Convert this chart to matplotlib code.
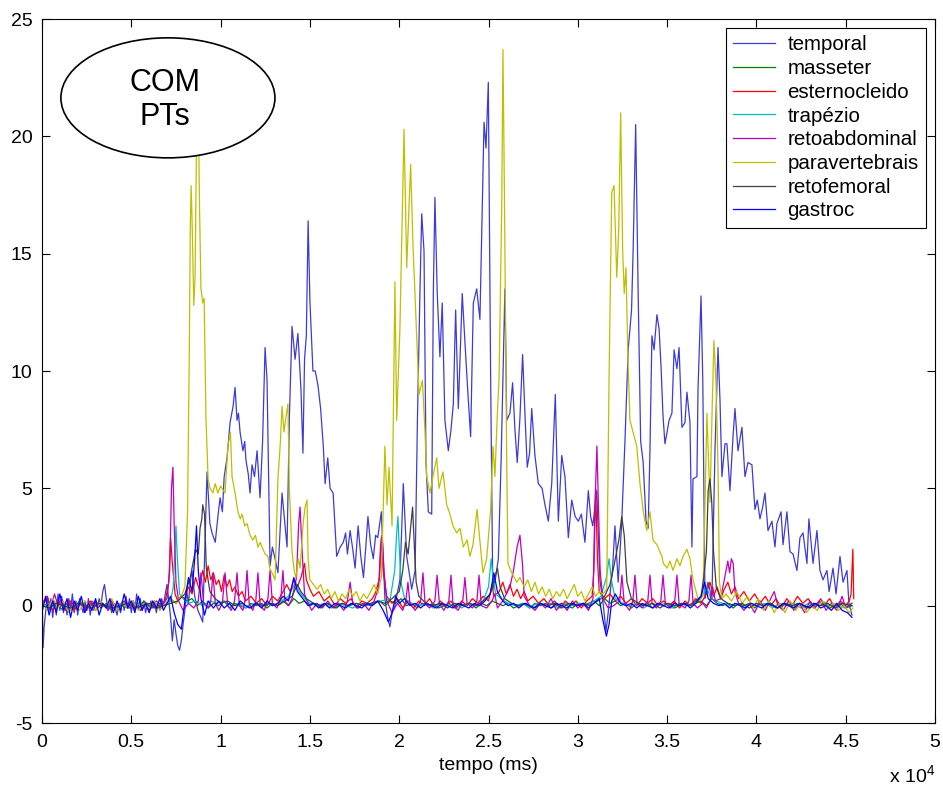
import numpy as np
import matplotlib
matplotlib.use("Agg")
import matplotlib.pyplot as plt
from matplotlib.patches import Ellipse
from matplotlib.ticker import FuncFormatter

plt.rcParams['font.family'] = ['Liberation Sans', 'DejaVu Sans']
plt.rcParams['mathtext.default'] = 'regular'
plt.rcParams['axes.unicode_minus'] = False

# time in units of 10^4 ms, amplitude
temporal = [(0.000,0.8),(0.006,-1.8),(0.012,-0.9),(0.02,-0.3),(0.03,0.4),(0.04,-0.2),(0.05,0.3),(0.06,-0.5),(0.07,0.2),(0.08,-0.4),(0.09,0.5),(0.10,-0.2),(0.11,0.4),(0.12,-0.3),(0.13,0.1),(0.14,-0.4),(0.15,0.3),(0.16,-0.2),(0.17,0.5),(0.18,-0.3),(0.19,0.2),(0.20,-0.4),(0.21,0.3),(0.22,0.0),(0.23,-0.3),(0.24,0.2),(0.25,-0.2),(0.26,0.3),(0.27,-0.4),(0.28,0.1),(0.29,-0.2),(0.30,0.2),(0.31,-0.1),(0.32,0.3),(0.33,0.0),(0.34,0.6),(0.35,0.9),(0.36,0.3),(0.37,-0.2),(0.38,0.2),(0.39,-0.3),(0.40,0.1),(0.41,-0.1),(0.42,-0.4),(0.43,0.0),(0.44,-0.3),(0.45,0.2),(0.46,-0.2),(0.47,0.4),(0.48,-0.1),(0.49,0.3),(0.50,-0.3),(0.51,0.2),(0.52,-0.2),(0.53,0.5),(0.54,-0.1),(0.55,0.3),(0.56,-0.2),(0.57,0.2),(0.58,-0.3),(0.59,0.1),(0.60,-0.2),(0.61,0.2),(0.62,-0.1),(0.63,0.2),(0.64,-0.3),(0.65,0.1),(0.66,-0.2),(0.67,0.3),(0.68,0.0),(0.69,0.5),(0.70,0.9),
            (0.71,0.2),(0.72,-0.5),(0.73,-1.5),(0.74,-0.6),(0.75,-1.2),(0.76,-1.7),(0.77,-1.9),(0.78,-1.5),(0.79,-0.8),(0.80,-0.2),(0.81,0.6),(0.82,0.1),(0.83,1.0),(0.84,1.5),(0.855,0.4),(0.873,-0.2),(0.89,-0.5),(0.90,-0.7),(0.91,2.0),(0.924,5.7),(0.94,3.5),(0.952,3.1),(0.97,2.7),(0.985,3.8),(0.997,4.6),(1.01,4.0),(1.02,5.5),(1.036,6.3),(1.053,7.8),(1.07,8.5),(1.081,9.3),(1.092,7.9),(1.10,8.2),(1.109,7.4),(1.125,6.6),(1.135,7.0),(1.142,6.2),(1.155,5.6),(1.165,4.8),(1.176,6.0),(1.19,5.5),(1.204,6.6),(1.221,4.6),(1.235,7.0),(1.249,11.0),(1.26,9.6),(1.277,1.7),(1.29,2.5),(1.305,2.0),(1.321,1.4),(1.344,4.8),(1.36,3.5),(1.372,2.5),(1.385,8.0),(1.40,11.9),(1.417,10.5),(1.433,11.6),(1.45,9.2),(1.461,6.5),(1.47,10.5),(1.48,11.5),(1.49,16.4),(1.50,13.0),(1.517,10.0),(1.53,10.0),(1.545,9.4),(1.56,8.4),(1.575,6.8),(1.585,5.2),(1.60,6.3),(1.613,5.0),(1.63,4.8),(1.65,2.1),(1.67,2.5),(1.687,2.7),(1.70,3.1),(1.71,2.2),(1.725,3.2),(1.74,2.4),(1.753,1.6),(1.77,3.4),(1.785,2.1),(1.80,1.2),(1.812,2.4),(1.825,3.8),(1.84,2.6),(1.855,2.0),(1.868,3.0),(1.88,2.9),(1.90,4.0),(1.92,0.3),(1.935,-0.5),(1.948,-0.9),(1.96,-0.3),(1.976,0.0),(2.004,1.1),(2.023,5.2),(2.042,2.1),(2.07,0.7),(2.089,1.5),(2.102,7.9),(2.116,13.3),(2.126,16.7),(2.139,15.1),(2.15,6.1),(2.163,4.0),(2.182,3.9),(2.191,13.3),(2.20,17.4),(2.213,13.3),(2.228,10.6),(2.241,12.9),(2.256,7.9),(2.275,6.6),(2.29,7.5),(2.303,8.6),(2.316,12.6),(2.331,8.4),(2.353,13.3),(2.369,11.1),(2.385,9.0),(2.40,7.2),(2.415,12.9),(2.434,13.5),(2.452,12.2),(2.462,15.8),(2.475,20.6),(2.486,19.5),(2.499,22.3),(2.512,9.7),(2.524,0.7),(2.54,1.2),(2.555,2.0),(2.57,6.0),(2.583,10.4),(2.592,13.5),(2.602,7.9),(2.62,8.2),(2.635,9.5),(2.648,7.5),(2.661,6.1),(2.676,8.0),(2.691,10.7),(2.705,8.0),(2.717,5.9),(2.73,6.5),(2.742,8.4),(2.76,6.4),(2.779,5.2),(2.80,5.0),(2.816,4.3),(2.835,3.6),(2.854,5.2),(2.874,9.0),(2.891,3.6),(2.91,6.4),(2.928,5.5),(2.947,2.9),(2.966,4.5),(2.985,3.8),(3.003,3.6),(3.02,3.9),(3.04,2.7),(3.059,4.9),(3.072,3.8),(3.084,3.4),(3.106,4.9),(3.124,1.1),(3.143,0.0),(3.158,-1.1),(3.17,-0.3),(3.195,1.6),(3.208,3.4),(3.226,1.0),(3.245,3.4),(3.264,7.0),(3.282,10.9),(3.301,12.6),(3.31,15.2),(3.324,20.5),(3.338,13.3),(3.352,7.0),(3.366,6.1),(3.382,3.6),(3.394,3.3),(3.404,6.6),(3.415,11.5),(3.427,10.9),(3.443,12.4),(3.455,11.8),(3.466,10.2),(3.477,8.1),(3.488,6.9),(3.50,7.4),(3.511,7.9),(3.527,8.2),(3.539,10.9),(3.555,10.1),(3.567,11.0),(3.583,7.6),(3.60,7.8),(3.611,9.1),(3.628,7.8),(3.639,2.5),(3.645,5.4),(3.667,5.5),(3.673,9.2),(3.69,13.2),(3.70,9.5),(3.712,0.3),(3.729,1.0),(3.751,0.3),(3.768,6.6),(3.785,11.0),(3.796,8.8),(3.807,5.5),(3.824,6.9),(3.835,6.9),(3.852,4.9),(3.869,7.2),(3.88,8.4),(3.897,6.6),(3.919,7.6),(3.936,5.5),(3.953,6.1),(3.975,6.0),(3.992,4.1),(4.005,4.5),(4.02,3.7),(4.035,4.2),(4.048,4.8),(4.065,3.2),(4.087,3.6),(4.104,2.5),(4.115,3.5),(4.138,4.0),(4.149,2.6),(4.171,4.0),(4.188,2.3),(4.205,2.2),(4.227,1.5),(4.244,2.9),(4.261,3.1),(4.283,1.8),(4.294,3.7),(4.317,1.8),(4.339,3.2),(4.356,1.5),(4.373,1.1),(4.395,1.5),(4.407,0.6),(4.429,1.6),(4.446,0.5),(4.468,2.1),(4.485,1.0),(4.507,1.5),(4.518,0.1),(4.535,-0.4)]

masseter = [(0.0,0.1),(0.03,-0.1),(0.06,0.2),(0.09,0.0),(0.12,-0.2),(0.15,0.1),(0.18,-0.1),(0.21,0.2),(0.24,-0.1),(0.27,0.0),(0.30,0.2),(0.33,-0.1),(0.36,0.1),(0.39,-0.2),(0.42,0.1),(0.45,0.0),(0.48,-0.1),(0.51,0.1),(0.54,-0.1),(0.57,0.2),(0.60,0.0),(0.63,-0.1),(0.66,0.1),(0.69,0.0),(0.72,0.3),(0.75,0.1),(0.78,0.4),(0.81,0.2),(0.84,0.3),(0.87,0.0),(0.90,0.2),(0.93,-0.1),(0.96,0.1),(0.99,0.0),(1.02,0.2),(1.05,-0.1),(1.08,0.1),(1.11,0.0),(1.14,-0.1),(1.17,0.1),(1.20,0.0),(1.23,0.1),(1.26,-0.1),(1.29,0.1),(1.32,0.0),(1.35,0.2),(1.38,0.0),(1.41,0.3),(1.44,0.1),(1.47,0.2),(1.50,0.0),(1.53,0.1),(1.56,-0.1),(1.59,0.1),(1.62,0.0),(1.65,-0.1),(1.68,0.1),(1.71,0.0),(1.74,0.1),(1.77,-0.1),(1.80,0.1),(1.83,0.0),(1.86,0.1),(1.89,0.2),(1.92,0.0),(1.95,0.2),(1.98,0.1),(2.01,0.3),(2.04,0.0),(2.07,0.1),(2.10,-0.1),(2.13,0.1),(2.16,0.0),(2.19,0.1),(2.22,-0.1),(2.25,0.0),(2.28,0.1),(2.31,-0.1),(2.34,0.1),(2.37,0.0),(2.40,0.1),(2.43,-0.1),(2.46,0.1),(2.49,0.0),(2.52,0.2),(2.55,0.1),(2.58,0.0),(2.61,0.1),(2.64,-0.1),(2.67,0.0),(2.70,0.1),(2.73,-0.1),(2.76,0.1),(2.79,0.0),(2.82,0.1),(2.85,-0.1),(2.88,0.0),(2.91,0.1),(2.94,0.0),(2.97,-0.1),(3.00,0.1),(3.03,0.0),(3.06,0.1),(3.09,0.2),(3.12,0.0),(3.15,0.3),(3.18,0.1),(3.21,0.2),(3.24,0.0),(3.27,0.1),(3.30,-0.1),(3.33,0.1),(3.36,0.0),(3.39,0.1),(3.42,-0.1),(3.45,0.1),(3.48,0.0),(3.51,0.1),(3.54,-0.1),(3.57,0.0),(3.60,0.1),(3.63,0.0),(3.66,0.1),(3.69,0.2),(3.72,0.0),(3.75,0.3),(3.78,0.1),(3.81,0.0),(3.84,0.1),(3.87,-0.1),(3.90,0.1),(3.93,0.0),(3.96,0.1),(3.99,-0.1),(4.02,0.1),(4.05,0.0),(4.08,0.1),(4.11,-0.1),(4.14,0.0),(4.17,0.1),(4.20,-0.1),(4.23,0.1),(4.26,0.0),(4.29,-0.1),(4.32,0.1),(4.35,0.0),(4.38,0.1),(4.41,-0.1),(4.44,0.0),(4.47,0.1),(4.50,-0.1),(4.535,0.0)]

esternocleido = [(0.0,0.0),(0.03,0.3),(0.06,-0.2),(0.09,0.2),(0.12,-0.1),(0.15,0.2),(0.18,-0.2),(0.21,0.1),(0.24,-0.1),(0.27,0.2),(0.30,-0.2),(0.33,0.1),(0.36,-0.1),(0.39,0.2),(0.42,-0.2),(0.45,0.1),(0.48,-0.1),(0.51,0.2),(0.54,-0.1),(0.57,0.1),(0.60,-0.2),(0.63,0.1),(0.66,0.0),(0.69,0.2),(0.71,1.0),(0.72,2.9),(0.73,1.8),(0.745,0.5),(0.76,0.2),(0.78,0.4),(0.80,0.3),(0.82,0.8),(0.84,0.5),(0.86,1.2),(0.88,0.7),(0.90,1.5),(0.915,1.0),(0.93,1.7),(0.945,1.1),(0.96,1.4),(0.975,0.9),(0.99,1.1),(1.005,0.6),(1.02,1.3),(1.035,0.8),(1.05,1.1),(1.065,0.6),(1.08,0.8),(1.10,0.4),(1.12,0.6),(1.14,0.2),(1.17,0.4),(1.20,0.1),(1.23,0.3),(1.26,0.0),(1.29,0.4),(1.32,0.2),(1.35,0.6),(1.37,0.9),(1.39,0.6),(1.41,1.1),(1.43,0.8),(1.45,1.2),(1.47,1.8),(1.48,1.1),(1.50,0.7),(1.52,0.4),(1.55,0.6),(1.58,0.2),(1.61,0.4),(1.64,0.0),(1.67,0.3),(1.70,0.1),(1.73,0.3),(1.76,-0.1),(1.79,0.2),(1.82,0.1),(1.85,0.3),(1.87,0.6),(1.89,1.2),(1.90,2.9),(1.91,1.5),(1.93,0.4),(1.96,0.1),(1.99,0.3),(2.02,-0.1),(2.05,0.2),(2.08,-0.1),(2.11,0.2),(2.14,0.0),(2.17,0.3),(2.20,-0.1),(2.23,0.2),(2.26,0.0),(2.29,0.2),(2.32,-0.1),(2.35,0.2),(2.38,0.0),(2.41,0.3),(2.44,0.1),(2.47,0.4),(2.50,0.2),(2.52,0.9),(2.53,0.4),(2.56,0.6),(2.58,1.0),(2.60,0.5),(2.62,0.9),(2.64,0.4),(2.66,0.7),(2.68,0.3),(2.70,0.6),(2.72,0.2),(2.75,0.4),(2.78,0.1),(2.81,0.3),(2.84,0.0),(2.87,0.2),(2.90,-0.1),(2.93,0.2),(2.96,0.0),(2.99,0.2),(3.02,-0.1),(3.05,0.2),(3.08,0.4),(3.09,1.5),(3.10,5.0),(3.11,2.0),(3.12,0.6),(3.15,0.3),(3.18,0.5),(3.21,0.2),(3.24,0.4),(3.27,0.1),(3.30,0.3),(3.33,0.0),(3.36,0.3),(3.39,0.1),(3.42,0.3),(3.45,0.0),(3.48,0.2),(3.51,0.0),(3.54,0.2),(3.57,-0.1),(3.60,0.2),(3.63,0.0),(3.66,0.3),(3.69,0.1),(3.72,0.5),(3.74,1.0),(3.76,0.4),(3.78,0.8),(3.80,0.3),(3.82,0.7),(3.84,1.0),(3.86,0.5),(3.88,0.8),(3.90,0.3),(3.93,0.6),(3.96,0.2),(3.99,0.5),(4.02,0.1),(4.05,0.4),(4.08,0.0),(4.11,0.3),(4.14,-0.1),(4.17,0.3),(4.20,0.0),(4.23,0.4),(4.26,0.1),(4.29,0.3),(4.32,-0.1),(4.35,0.2),(4.38,0.0),(4.41,0.3),(4.44,-0.1),(4.47,0.2),(4.50,0.0),(4.52,0.2),(4.53,0.5),(4.54,2.4),(4.545,0.3)]

trapezio = [(0.0,0.0),(0.04,0.1),(0.08,-0.1),(0.12,0.1),(0.16,-0.1),(0.20,0.1),(0.24,0.0),(0.28,-0.1),(0.32,0.1),(0.36,0.0),(0.40,-0.1),(0.44,0.1),(0.48,-0.1),(0.52,0.1),(0.56,0.0),(0.60,-0.1),(0.64,0.1),(0.68,0.0),(0.72,0.2),(0.735,0.8),(0.745,2.5),(0.75,3.4),(0.758,2.0),(0.77,0.5),(0.79,0.3),(0.82,0.1),(0.86,0.2),(0.90,0.0),(0.94,0.2),(0.98,0.1),(1.02,0.2),(1.06,0.0),(1.10,0.1),(1.14,-0.1),(1.18,0.1),(1.22,0.0),(1.26,0.1),(1.30,0.0),(1.34,0.2),(1.38,0.4),(1.42,1.0),(1.44,0.6),(1.47,0.3),(1.50,0.1),(1.54,0.0),(1.58,0.1),(1.62,-0.1),(1.66,0.1),(1.70,0.0),(1.74,-0.1),(1.78,0.1),(1.82,0.0),(1.86,0.1),(1.90,0.2),(1.95,0.3),(1.975,1.5),(1.985,3.0),(1.993,3.8),(2.0,2.5),(2.01,1.0),(2.03,0.3),(2.07,0.1),(2.11,0.0),(2.15,0.1),(2.19,-0.1),(2.23,0.1),(2.27,0.0),(2.31,0.1),(2.35,-0.1),(2.39,0.1),(2.43,0.0),(2.47,0.2),(2.50,0.8),(2.515,2.0),(2.525,1.2),(2.54,0.5),(2.57,0.3),(2.61,0.1),(2.65,0.0),(2.69,0.1),(2.73,-0.1),(2.77,0.1),(2.81,0.0),(2.85,0.1),(2.89,-0.1),(2.93,0.1),(2.97,0.0),(3.01,0.1),(3.05,0.0),(3.09,0.2),(3.13,0.4),(3.16,1.2),(3.175,2.0),(3.19,1.0),(3.21,0.3),(3.25,0.1),(3.29,0.0),(3.33,0.1),(3.37,-0.1),(3.41,0.1),(3.45,0.0),(3.49,0.1),(3.53,-0.1),(3.57,0.1),(3.61,0.0),(3.65,0.1),(3.69,0.3),(3.72,0.8),(3.74,0.4),(3.77,0.2),(3.81,0.1),(3.85,0.0),(3.89,0.1),(3.93,-0.1),(3.97,0.1),(4.01,0.0),(4.05,0.1),(4.09,-0.1),(4.13,0.1),(4.17,0.0),(4.21,0.1),(4.25,-0.1),(4.29,0.1),(4.33,0.0),(4.37,0.2),(4.41,0.0),(4.45,0.1),(4.49,-0.1),(4.535,0.1)]

retoabdominal = [(0.0,0.1),(0.03,0.4),(0.05,-0.1),(0.07,0.5),(0.09,0.0),(0.11,0.3),(0.13,-0.2),(0.16,0.2),(0.19,-0.1),(0.22,0.1),(0.25,-0.2),(0.28,0.2),(0.31,-0.1),(0.34,0.1),(0.37,-0.2),(0.40,0.1),(0.43,-0.1),(0.46,0.2),(0.49,-0.1),(0.52,0.1),(0.55,-0.2),(0.58,0.1),(0.61,-0.1),(0.64,0.2),(0.67,0.0),(0.70,0.3),(0.715,1.5),(0.725,5.0),(0.733,5.9),(0.74,3.5),(0.75,1.0),(0.765,0.2),(0.79,-0.2),(0.82,0.1),(0.85,-0.1),(0.875,0.2),(0.89,1.4),(0.905,0.1),(0.93,-0.1),(0.945,0.2),(0.957,1.4),(0.97,0.1),(0.99,-0.2),(1.01,0.1),(1.025,1.4),(1.04,0.0),(1.06,-0.2),(1.078,0.2),(1.092,1.4),(1.105,0.0),(1.125,-0.2),(1.136,0.2),(1.148,1.5),(1.16,0.1),(1.18,-0.2),(1.197,0.2),(1.209,1.4),(1.222,0.0),(1.245,-0.2),(1.265,0.3),(1.277,1.5),(1.29,0.1),(1.315,-0.1),(1.337,0.3),(1.349,1.5),(1.36,0.2),(1.38,0.0),(1.40,0.3),(1.425,1.2),(1.437,3.5),(1.445,4.2),(1.455,2.5),(1.47,0.5),(1.49,0.1),(1.51,-0.2),(1.54,0.1),(1.57,-0.1),(1.60,0.2),(1.63,-0.1),(1.66,0.1),(1.69,-0.2),(1.71,0.2),(1.725,1.0),(1.74,0.1),(1.77,-0.1),(1.80,0.1),(1.83,-0.2),(1.86,0.2),(1.885,0.8),(1.895,2.5),(1.904,3.0),(1.915,1.5),(1.93,0.2),(1.96,-0.3),(1.99,0.1),(2.02,-0.2),(2.037,0.2),(2.049,1.0),(2.06,0.1),(2.09,-0.2),(2.12,0.2),(2.133,1.4),(2.145,0.1),(2.17,-0.1),(2.20,0.2),(2.212,1.3),(2.225,0.1),(2.25,-0.2),(2.278,0.2),(2.29,1.3),(2.302,0.0),(2.33,-0.2),(2.356,0.2),(2.368,1.2),(2.38,0.1),(2.41,-0.1),(2.435,0.2),(2.447,1.3),(2.46,0.0),(2.49,-0.1),(2.52,0.2),(2.535,0.5),(2.55,-0.1),(2.58,0.2),(2.60,0.5),(2.62,0.8),(2.64,1.5),(2.66,2.5),(2.676,3.0),(2.69,1.8),(2.70,0.4),(2.73,0.0),(2.76,-0.2),(2.79,0.1),(2.82,-0.1),(2.85,0.3),(2.88,-0.2),(2.91,0.1),(2.94,-0.2),(2.97,0.2),(3.00,-0.1),(3.03,0.1),(3.06,-0.2),(3.085,0.3),(3.095,4.0),(3.107,6.8),(3.115,4.5),(3.125,1.5),(3.14,0.3),(3.17,-0.1),(3.20,0.0),(3.235,0.2),(3.247,1.3),(3.26,0.1),(3.29,-0.2),(3.308,0.2),(3.32,1.3),(3.332,0.1),(3.36,-0.1),(3.392,0.2),(3.404,1.3),(3.416,0.1),(3.44,-0.1),(3.465,0.2),(3.477,1.3),(3.49,0.1),(3.52,-0.1),(3.543,0.2),(3.555,1.3),(3.567,0.1),(3.60,-0.1),(3.622,0.2),(3.634,1.3),(3.646,0.1),(3.67,-0.1),(3.70,0.1),(3.72,-0.1),(3.74,0.2),(3.755,0.8),(3.77,0.2),(3.80,0.3),(3.83,1.5),(3.84,1.9),(3.85,1.4),(3.86,2.0),(3.87,1.8),(3.88,0.6),(3.90,0.1),(3.93,-0.2),(3.96,0.1),(3.99,-0.3),(4.02,0.2),(4.05,-0.2),(4.08,0.3),(4.10,0.6),(4.12,0.0),(4.15,-0.2),(4.18,0.2),(4.21,-0.2),(4.24,0.1),(4.27,-0.3),(4.30,0.2),(4.33,-0.1),(4.36,0.3),(4.39,-0.2),(4.42,0.1),(4.45,-0.2),(4.48,0.4),(4.50,-0.1),(4.535,0.1)]

paravertebrais = [(0.0,0.2),(0.03,-0.2),(0.06,0.3),(0.09,-0.1),(0.12,0.2),(0.15,-0.3),(0.18,0.1),(0.21,-0.2),(0.24,0.2),(0.27,0.0),(0.30,-0.2),(0.33,0.2),(0.36,-0.1),(0.39,0.3),(0.42,-0.2),(0.45,0.1),(0.48,-0.1),(0.51,0.2),(0.54,-0.2),(0.57,0.1),(0.60,-0.1),(0.63,0.2),(0.66,-0.2),(0.69,0.1),(0.72,0.3),(0.75,0.1),(0.78,0.4),
                  (0.80,0.8),(0.815,4.0),(0.825,11.0),(0.83,16.0),(0.835,17.9),(0.84,16.5),(0.85,12.8),(0.857,14.0),(0.865,19.5),(0.875,21.5),(0.882,17.0),(0.89,13.5),(0.90,12.9),(0.908,13.1),(0.918,8.0),(0.93,5.4),(0.941,5.0),(0.957,4.8),(0.97,5.2),(0.985,4.8),(1.0,5.1),(1.008,5.0),(1.025,4.8),(1.041,6.8),(1.055,7.4),(1.064,5.5),(1.081,4.8),(1.097,4.0),(1.11,3.7),(1.12,3.9),(1.135,3.4),(1.148,3.5),(1.165,3.0),(1.181,2.8),(1.195,3.0),(1.209,2.5),(1.222,2.7),(1.232,2.5),(1.249,2.2),(1.265,2.1),(1.275,1.6),(1.288,1.4),(1.305,1.1),(1.321,5.4),(1.335,7.0),(1.344,8.5),(1.355,7.4),(1.365,8.0),(1.377,8.6),(1.385,5.0),(1.40,2.3),(1.412,1.5),(1.422,1.2),(1.435,2.0),(1.445,1.6),(1.462,3.5),(1.473,4.2),(1.484,4.5),(1.49,2.0),(1.50,1.1),(1.52,0.9),(1.54,0.7),(1.56,0.9),(1.58,0.5),(1.60,0.7),(1.62,0.3),(1.64,0.6),(1.66,0.2),(1.68,0.5),(1.70,0.3),(1.72,0.7),(1.74,0.4),(1.76,0.6),(1.78,0.2),(1.80,0.5),(1.82,0.3),(1.84,0.6),(1.86,0.9),(1.88,0.5),(1.90,1.2),
                  (1.92,6.8),(1.932,4.3),(1.943,5.9),(1.96,3.4),(1.976,13.8),(1.986,7.9),(2.004,11.8),(2.027,20.3),(2.042,14.4),(2.064,18.8),(2.077,15.4),(2.098,11.5),(2.111,9.0),(2.13,9.6),(2.144,7.5),(2.154,5.5),(2.172,4.8),(2.189,5.5),(2.21,6.3),(2.223,5.0),(2.245,5.7),(2.266,4.3),(2.284,3.9),(2.301,3.4),(2.322,3.1),(2.34,3.3),(2.359,2.5),(2.38,2.8),(2.396,2.1),(2.413,2.6),(2.436,4.1),(2.45,2.9),(2.469,1.4),(2.49,2.0),(2.512,4.1),(2.525,6.8),(2.536,5.5),(2.548,7.9),(2.559,9.7),(2.574,16.9),(2.581,23.7),(2.59,16.9),(2.602,6.1),(2.609,1.8),(2.63,1.4),(2.658,1.0),(2.676,1.2),
                  (2.70,0.8),(2.72,1.1),(2.74,0.6),(2.76,1.0),(2.78,0.5),(2.80,0.8),(2.82,0.4),(2.84,0.7),(2.86,0.3),(2.88,0.6),(2.90,0.4),(2.92,0.7),(2.94,0.3),(2.96,0.6),(2.98,0.9),(3.00,0.4),(3.02,0.6),(3.04,0.2),(3.06,0.5),(3.08,0.8),(3.10,0.4),(3.12,0.6),(3.14,0.5),
                  (3.162,0.7),(3.175,9.7),(3.19,17.6),(3.203,17.9),(3.218,14.0),(3.229,16.0),(3.24,21.0),(3.251,15.2),(3.26,13.3),(3.27,14.4),(3.281,10.4),(3.292,7.9),(3.309,7.4),(3.33,6.8),(3.348,5.2),(3.367,4.0),(3.386,3.2),(3.404,4.0),(3.421,2.8),(3.443,2.6),(3.471,2.1),(3.479,1.8),(3.5,1.6),(3.516,1.9),(3.533,1.5),(3.555,2.0),(3.572,1.7),(3.589,2.1),(3.611,2.4),(3.628,2.0),(3.645,1.1),(3.673,0.3),(3.701,0.4),(3.723,8.2),(3.74,4.4),(3.751,8.0),(3.762,11.3),(3.774,9.5),(3.785,5.9),(3.793,1.0),(3.807,0.3),
                  (3.83,0.5),(3.86,0.2),(3.89,0.6),(3.92,0.1),(3.95,0.4),(3.98,-0.1),(4.01,0.3),(4.04,-0.2),(4.07,0.2),(4.10,-0.3),(4.13,0.1),(4.16,-0.3),(4.19,0.2),(4.22,-0.2),(4.25,0.1),(4.28,-0.3),(4.31,0.0),(4.34,-0.2),(4.37,0.2),(4.40,-0.1),(4.43,0.1),(4.46,-0.2),(4.49,0.0),(4.52,-0.3),(4.54,-0.1)]

retofemoral = [(0.0,0.0),(0.04,-0.1),(0.08,0.1),(0.12,0.0),(0.16,-0.1),(0.20,0.1),(0.24,0.0),(0.28,-0.1),(0.32,0.1),(0.36,0.0),(0.40,-0.1),(0.44,0.0),(0.48,0.1),(0.52,-0.1),(0.56,0.0),(0.60,0.1),(0.64,-0.1),(0.68,0.0),(0.72,0.1),(0.76,0.2),(0.80,0.5),(0.83,1.2),(0.845,1.8),(0.86,2.4),(0.875,2.2),(0.885,3.3),(0.895,3.7),(0.90,4.3),(0.91,3.9),(0.92,1.6),(0.94,0.6),(0.97,0.3),(1.0,0.1),(1.04,0.2),(1.08,0.0),(1.12,0.1),(1.16,-0.1),(1.20,0.1),(1.24,0.0),(1.28,0.1),(1.32,0.0),(1.36,0.2),(1.40,0.4),(1.43,0.9),(1.45,0.6),(1.48,0.3),(1.52,0.1),(1.56,0.0),(1.60,0.1),(1.64,-0.1),(1.68,0.1),(1.72,0.0),(1.76,0.1),(1.80,0.0),(1.84,0.1),(1.88,0.2),(1.92,0.1),(1.96,0.3),(2.0,0.6),(2.02,1.5),(2.035,2.7),(2.05,2.2),(2.06,3.0),(2.075,4.2),(2.085,2.5),(2.095,1.0),(2.11,0.4),(2.15,0.1),(2.19,0.0),(2.23,0.1),(2.27,-0.1),(2.31,0.1),(2.35,0.0),(2.39,0.1),(2.43,0.0),(2.47,0.2),(2.51,0.5),(2.535,1.2),(2.55,1.6),(2.565,0.8),(2.59,0.3),(2.63,0.1),(2.67,0.0),(2.71,0.1),(2.75,-0.1),(2.79,0.1),(2.83,0.0),(2.87,0.1),(2.91,-0.1),(2.95,0.1),(2.99,0.0),(3.03,0.1),(3.07,0.0),(3.11,0.2),(3.15,0.4),(3.18,0.9),(3.20,1.6),(3.215,2.2),(3.23,2.8),(3.246,3.8),(3.26,3.0),(3.275,1.0),(3.30,0.3),(3.34,0.1),(3.38,0.0),(3.42,0.1),(3.46,-0.1),(3.50,0.1),(3.54,0.0),(3.58,0.1),(3.62,0.0),(3.66,0.2),(3.69,0.4),(3.705,1.2),(3.72,2.3),(3.73,4.9),(3.74,5.4),(3.75,4.4),(3.76,2.3),(3.775,0.8),(3.80,0.3),(3.84,0.1),(3.88,0.0),(3.92,0.1),(3.96,-0.1),(4.0,0.1),(4.04,0.0),(4.08,0.1),(4.12,-0.1),(4.16,0.1),(4.20,0.0),(4.24,0.1),(4.28,-0.1),(4.32,0.1),(4.36,0.0),(4.40,0.1),(4.44,-0.1),(4.48,0.1),(4.535,0.0)]

gastroc = [(0.0,-0.3),(0.02,0.4),(0.04,-0.4),(0.06,0.2),(0.08,-0.3),(0.10,0.5),(0.12,-0.2),(0.14,0.3),(0.16,-0.5),(0.18,0.2),(0.20,-0.2),(0.22,0.4),(0.24,-0.3),(0.26,0.1),(0.28,-0.2),(0.30,0.3),(0.32,-0.4),(0.34,0.1),(0.36,-0.1),(0.38,0.3),(0.40,-0.3),(0.42,0.2),(0.44,-0.2),(0.46,0.5),(0.48,-0.1),(0.50,0.2),(0.52,-0.3),(0.54,0.4),(0.56,-0.2),(0.58,0.1),(0.60,-0.3),(0.62,0.2),(0.64,-0.1),(0.66,0.3),(0.68,-0.2),(0.70,0.1),(0.72,0.4),(0.74,-0.3),(0.76,-0.8),(0.78,-1.0),(0.80,0.2),(0.82,1.2),(0.84,0.6),(0.855,2.0),(0.865,3.4),(0.875,1.5),(0.89,0.3),(0.91,-0.4),(0.93,0.2),(0.96,-0.1),(0.99,0.2),(1.02,-0.1),(1.05,0.1),(1.08,-0.2),(1.11,0.2),(1.14,0.0),(1.17,-0.1),(1.20,0.1),(1.23,-0.1),(1.26,0.2),(1.29,0.0),(1.32,0.1),(1.35,0.4),(1.38,0.2),(1.41,1.2),(1.43,0.6),(1.46,0.3),(1.49,0.0),(1.52,0.1),(1.55,-0.1),(1.58,0.1),(1.61,-0.1),(1.64,0.1),(1.67,0.0),(1.70,-0.1),(1.73,0.1),(1.76,0.0),(1.79,-0.1),(1.82,0.1),(1.85,0.0),(1.88,0.2),(1.91,-0.2),(1.94,-0.7),(1.96,-0.3),(1.98,0.4),(2.0,0.1),(2.03,0.3),(2.06,0.0),(2.09,0.1),(2.12,-0.1),(2.15,0.1),(2.18,0.0),(2.21,-0.1),(2.24,0.1),(2.27,0.0),(2.30,-0.1),(2.33,0.1),(2.36,0.0),(2.39,-0.1),(2.42,0.1),(2.45,0.0),(2.48,0.2),(2.51,0.5),(2.53,1.4),(2.55,0.6),(2.58,0.2),(2.61,0.0),(2.64,0.1),(2.67,-0.1),(2.70,0.1),(2.73,0.0),(2.76,-0.1),(2.79,0.1),(2.82,0.0),(2.85,-0.1),(2.88,0.1),(2.91,0.0),(2.94,-0.1),(2.97,0.1),(3.00,0.0),(3.03,0.1),(3.06,-0.1),(3.09,0.1),(3.12,0.3),(3.14,-0.6),(3.16,-1.3),(3.175,-0.8),(3.19,0.2),(3.21,0.5),(3.24,0.1),(3.27,0.0),(3.30,0.1),(3.33,-0.1),(3.36,0.1),(3.39,0.0),(3.42,-0.1),(3.45,0.1),(3.48,0.0),(3.51,-0.1),(3.54,0.1),(3.57,0.0),(3.60,0.1),(3.63,-0.1),(3.66,0.1),(3.69,0.4),(3.71,1.0),(3.73,0.3),(3.76,0.1),(3.79,0.0),(3.82,0.1),(3.85,-0.1),(3.88,0.1),(3.91,0.0),(3.94,-0.1),(3.97,0.1),(4.00,0.0),(4.03,-0.1),(4.06,0.1),(4.09,0.0),(4.12,-0.1),(4.15,0.1),(4.18,0.0),(4.21,-0.1),(4.24,0.1),(4.27,0.0),(4.30,-0.1),(4.33,0.1),(4.36,-0.1),(4.39,0.0),(4.42,-0.2),(4.45,0.1),(4.48,-0.2),(4.51,-0.3),(4.535,-0.5)]

series = [('temporal', temporal, '#3c3cd2'),
          ('masseter', masseter, '#008000'),
          ('esternocleido', esternocleido, '#ff0000'),
          ('trapézio', trapezio, '#00bfbf'),
          ('retoabdominal', retoabdominal, '#bf00bf'),
          ('paravertebrais', paravertebrais, '#bfbf00'),
          ('retofemoral', retofemoral, '#404040'),
          ('gastroc', gastroc, '#0000ff')]

fig = plt.figure(figsize=(9.43, 7.87), dpi=100)
ax = fig.add_axes([42/943, 64/787, 893/943, 704/787])

for name, pts, col in series:
    t, v = zip(*pts)
    ax.plot(np.array(t) * 1e4, v, color=col, lw=0.9, label=name)

ax.set_xlim(0, 50000)
ax.set_ylim(-5, 25)
ax.set_xticks(np.arange(0, 50001, 5000))
ax.set_yticks(np.arange(-5, 26, 5))
ax.xaxis.set_major_formatter(FuncFormatter(lambda v, p: '%g' % (v / 1e4)))
ax.tick_params(direction='in', top=True, right=True, length=6, width=0.8,
               labelsize=14)
ax.tick_params(axis='x', pad=8)
ax.tick_params(axis='y', pad=7)
for s in ax.spines.values():
    s.set_linewidth(0.8)
ax.set_xlabel('tempo (ms)', fontsize=14, labelpad=4)
ax.text(0.949, -0.074, 'x 10$^{4}$', transform=ax.transAxes, fontsize=14,
        ha='left', va='center')

leg = ax.legend(loc='upper right', bbox_to_anchor=(0.9899, 0.987), borderaxespad=0,
                prop={'size': 14.8}, fancybox=False, framealpha=1, edgecolor='black',
                handlelength=2.05, labelspacing=0.23, borderpad=0.35,
                handletextpad=0.6)
leg.get_frame().set_linewidth(0.8)

ell = Ellipse((0.141, 0.888), 0.2397, 0.1705, transform=ax.transAxes,
              facecolor='white', edgecolor='black', lw=1.2, zorder=5)
ax.add_patch(ell)
ax.text(0.138, 0.885, 'COM\nPTs', transform=ax.transAxes, fontsize=22,
        ha='center', va='center', linespacing=1.2, zorder=6)

fig.savefig('out.png', dpi=100)
